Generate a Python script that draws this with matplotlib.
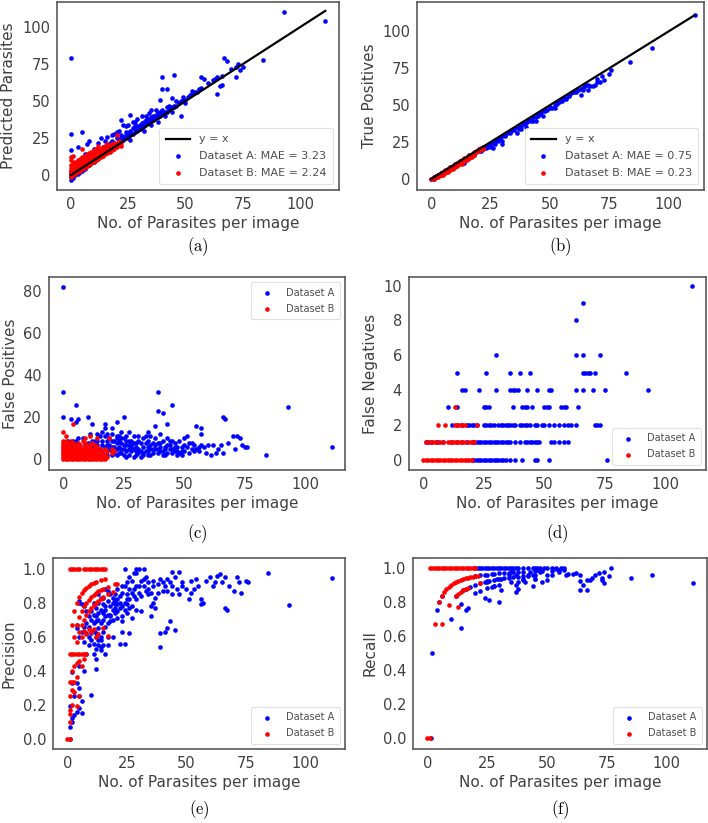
import matplotlib
matplotlib.use("Agg")
import matplotlib.pyplot as plt

plt.rcParams['mathtext.fontset'] = 'cm'

XLABEL = 'No. of Parasites per image'
x_ticks = [0, 25, 50, 75, 100]
line_x = [0, 111]

# (a) predicted count vs ground truth count
a_A = [
    (0, -3), (0, -1), (0, 1), (0, 3), (1, -2), (1, 0), (1, 2), (2, 0), (2, 3), (3, 1),
    (3, 4), (4, 2), (4, 5), (5, 3), (5, 7), (6, 4), (6, 8), (7, 6), (7, 9), (8, 7),
    (8, 11), (9, 8), (9, 12), (10, 9), (10, 13), (11, 10), (11, 15), (12, 12), (12, 16), (13, 13),
    (13, 17), (14, 14), (14, 19), (15, 15), (15, 18), (16, 16), (16, 20), (17, 17), (17, 22), (18, 19),
    (18, 23), (19, 20), (19, 22), (20, 21), (20, 25), (21, 22), (21, 24), (22, 23), (22, 27), (23, 24),
    (23, 26), (24, 25), (24, 29), (25, 26), (25, 28), (26, 27), (26, 30), (27, 28), (27, 32), (28, 29),
    (28, 31), (29, 30), (29, 33), (30, 31), (30, 34), (31, 32), (31, 35), (32, 33), (32, 36), (33, 35),
    (34, 35), (34, 38), (35, 37), (36, 37), (36, 40), (37, 39), (38, 39), (38, 42), (39, 40), (40, 42),
    (41, 43), (42, 43), (43, 45), (44, 46), (45, 47), (46, 47), (47, 49), (48, 50), (49, 51), (50, 51),
    (51, 53), (52, 54), (53, 55), (54, 56), (55, 56), (56, 58), (57, 59), (60, 62), (62, 64), (63, 65),
    (64, 66), (66, 67), (70, 72), (72, 73), (73, 75), (15, 23), (18, 27), (21, 30), (25, 34), (27, 36),
    (29, 38), (31, 40), (34, 42), (32, 30), (26, 24), (35, 34), (38, 36), (41, 40), (44, 43), (50, 49),
    (0, 79), (93, 110), (111, 104), (84, 78), (75, 73), (74, 71), (67, 79), (68, 77), (72, 66), (66, 61),
    (65, 60), (64, 55), (57, 66), (58, 65), (40, 66), (45, 68), (40, 58), (42, 58), (39, 51), (44, 52),
    (45, 46), (48, 40), (35, 44), (37, 44), (26, 41), (22, 37), (23, 34), (0, 28), (0, 17), (5, 29),
    (3, 19), (7, 21), (8, 23), (13, 25), (16, 26), (19, 28), (30, 31), (28, 36), (33, 40), (24, 33),
    (20, 29), (12, 22), (10, 18), (6, 14), (22, 25), (24, 27), (26, 29), (28, 33), (30, 33), (32, 35),
    (33, 37), (35, 39), (37, 41), (39, 43), (40, 44), (42, 46), (43, 47), (46, 50), (49, 53), (53, 57),
]
a_B = [
    (0, -1), (0, 0), (0, 1), (0, 2), (0, 3), (0, 5), (0, 7), (0, 10), (0, 12),
    (1, 0), (1, 1), (1, 2), (1, 3), (1, 4), (1, 6), (1, 8), (1, 13),
    (2, 1), (2, 2), (2, 3), (2, 4), (2, 5), (2, 7), (2, 9),
    (3, 2), (3, 3), (3, 4), (3, 5), (3, 6), (3, 8), (3, 10),
    (4, 3), (4, 4), (4, 5), (4, 6), (4, 7), (4, 9), (4, 11),
    (5, 4), (5, 5), (5, 6), (5, 7), (5, 8), (5, 10), (5, 12), (5, 18),
    (6, 5), (6, 6), (6, 7), (6, 8), (6, 9), (6, 11), (6, 13),
    (7, 6), (7, 7), (7, 8), (7, 9), (7, 10), (7, 12), (7, 14),
    (8, 7), (8, 8), (8, 9), (8, 10), (8, 11), (8, 13), (8, 15),
    (9, 8), (9, 9), (9, 10), (9, 11), (9, 12), (9, 14), (9, 16),
    (10, 9), (10, 10), (10, 11), (10, 12), (10, 13), (10, 15), (10, 17),
    (11, 10), (11, 11), (11, 12), (11, 14), (11, 16), (11, 18),
    (12, 11), (12, 12), (12, 13), (12, 15), (12, 17), (12, 20),
    (13, 12), (13, 13), (13, 14), (13, 16), (13, 18),
    (14, 13), (14, 14), (14, 15), (14, 17), (14, 19),
    (15, 14), (15, 15), (15, 16), (15, 18), (15, 20),
    (16, 15), (16, 16), (16, 17), (16, 19), (16, 21),
    (17, 16), (17, 17), (17, 18), (17, 20),
    (18, 17), (18, 18), (18, 19), (18, 21),
    (19, 18), (19, 20), (19, 22),
    (20, 19), (20, 21), (20, 27),
    (21, 21), (21, 23), (22, 20), (22, 22),
]

# (b) true positives vs ground truth count
b_A = [
    (0, 0), (1, 1), (1, 0), (2, 2), (2, 1), (3, 3), (3, 2), (4, 4), (4, 3), (5, 5),
    (5, 4), (6, 5), (7, 7), (7, 6), (8, 8), (8, 7), (9, 8), (10, 10), (10, 9), (11, 10),
    (12, 12), (12, 11), (13, 12), (14, 13), (14, 11), (15, 14), (16, 16), (16, 14), (17, 16), (18, 17),
    (18, 16), (19, 18), (20, 20), (20, 19), (21, 19), (22, 22), (22, 20), (23, 21), (24, 23), (25, 24),
    (25, 22), (26, 25), (26, 21), (27, 26), (27, 24), (28, 27), (28, 26), (29, 27), (30, 29), (30, 26),
    (30, 24), (31, 29), (32, 31), (33, 31), (34, 33), (35, 33), (36, 35), (36, 31), (37, 34), (37, 36),
    (38, 36), (38, 34), (39, 37), (40, 38), (40, 35), (41, 39), (42, 40), (42, 39), (43, 42), (43, 39),
    (44, 42), (44, 39), (45, 43), (46, 45), (47, 46), (47, 43), (48, 46), (49, 47), (50, 48), (51, 48),
    (52, 50), (52, 48), (53, 52), (54, 52), (55, 53), (56, 54), (57, 55), (57, 54), (58, 56), (59, 58),
    (60, 59), (61, 59), (63, 61), (63, 57), (64, 62), (64, 60), (65, 63), (66, 64), (66, 60), (67, 63),
    (68, 63), (69, 64), (70, 68), (70, 66), (71, 66), (72, 70), (73, 67), (75, 71), (76, 74), (84, 79),
    (93, 89), (111, 111), (21, 20), (23, 22), (24, 22), (29, 28), (31, 30), (33, 32), (35, 34), (39, 38),
    (41, 40), (45, 44), (46, 44), (48, 47), (50, 49), (53, 51), (55, 54), (58, 57), (62, 60), (65, 64),
]
b_B = [
    (0, 0), (1, 1), (1, 0), (2, 2), (2, 1), (3, 3), (3, 2), (3, 1), (4, 4), (4, 3),
    (5, 5), (5, 4), (5, 3), (6, 6), (6, 5), (6, 4), (7, 7), (7, 6), (7, 5), (8, 8),
    (8, 7), (8, 6), (9, 9), (9, 8), (9, 7), (10, 10), (10, 9), (10, 8), (11, 11), (11, 10),
    (11, 9), (12, 12), (12, 11), (12, 10), (13, 13), (13, 12), (13, 11), (13, 10), (14, 14), (14, 13),
    (14, 12), (15, 15), (15, 14), (15, 13), (16, 16), (16, 15), (16, 14), (17, 17), (17, 16), (17, 15),
    (18, 18), (18, 17), (18, 16), (19, 19), (19, 18), (20, 20), (20, 19), (21, 21), (21, 20), (22, 21),
    (22, 20),
]

# (c) false positives vs ground truth count
c_A = [
    (0, 82), (0, 32), (0, 20), (5, 26), (3, 19), (5, 18), (6, 19), (10, 20), (12, 17), (17, 17),
    (17, 15), (20, 15), (22, 18), (25, 20), (27, 13), (39, 32), (39, 23), (41, 22), (45, 26), (43, 17),
    (38, 16), (35, 13), (36, 11), (40, 12), (51, 11), (55, 16), (57, 15), (57, 12), (66, 20), (67, 19),
    (70, 11), (72, 11), (73, 10), (75, 6), (76, 6), (84, 2), (93, 25), (111, 6), (60, 7), (62, 7),
    (63, 3), (64, 5), (66, 3), (48, 3), (52, 3), (55, 5),
    (1, 2), (2, 5), (3, 8), (4, 3), (5, 9), (6, 6), (7, 4), (8, 10), (9, 7), (10, 3),
    (11, 12), (12, 6), (13, 9), (14, 4), (15, 11), (16, 7), (17, 2), (18, 9), (19, 5), (20, 12),
    (21, 3), (22, 8), (23, 6), (24, 10), (25, 2), (26, 7), (27, 5), (28, 9), (29, 1), (30, 6),
    (31, 3), (32, 8), (33, 10), (34, 4), (35, 6), (36, 2), (37, 5), (38, 7), (39, 3), (40, 6),
    (41, 4), (42, 2), (43, 7), (44, 5), (45, 3), (46, 8), (47, 6), (48, 9), (49, 2), (50, 7),
    (52, 8), (53, 5), (54, 7), (56, 6), (58, 6), (59, 3), (61, 2), (65, 7), (68, 8), (71, 5),
    (74, 7), (16, 13), (18, 12), (14, 12), (22, 11), (24, 13), (26, 11), (28, 4), (29, 8), (31, 11),
    (33, 6), (34, 11), (35, 9), (38, 10), (40, 8), (42, 5), (44, 9), (46, 4), (50, 10), (12, 9),
    (10, 8), (8, 5), (6, 10), (4, 7), (2, 9), (14, 7), (18, 4), (20, 6), (21, 9), (23, 3),
    (25, 5), (27, 9), (30, 2), (32, 4), (26, 1), (20, 2), (15, 1), (13, 3), (11, 5), (9, 2),
    (7, 1), (24, 8), (22, 5), (19, 10), (17, 11),
    (15, 5), (16, 9), (17, 6), (18, 2), (19, 7), (20, 4), (21, 6), (22, 2), (23, 9), (24, 5),
    (25, 7), (26, 4), (27, 2), (28, 6), (29, 11), (30, 8), (31, 5), (32, 1), (33, 3), (34, 8),
    (35, 4), (36, 7), (37, 3), (38, 5), (39, 8), (40, 4), (41, 9), (42, 6), (43, 3), (44, 7),
    (45, 9), (46, 6), (47, 4), (49, 6), (50, 4), (51, 6), (53, 8), (54, 4), (56, 4), (57, 7),
    (36, 5), (30, 4), (28, 7), (26, 9), (24, 3), (22, 10), (20, 9), (18, 7), (16, 3), (14, 9),
    (12, 4), (10, 6), (8, 3), (6, 2), (4, 9), (2, 3), (23, 11), (25, 10), (27, 7), (29, 5),
    (31, 9), (33, 2), (35, 2), (37, 8), (39, 5), (41, 2), (43, 10), (45, 5), (47, 2), (49, 4),
]
c_B = [
    (0, 13), (1, 11), (4, 17), (9, 10), (11, 11), (19, 10), (14, 10),
    (0, 0), (0, 1), (0, 2), (0, 3), (0, 4), (0, 5), (0, 6), (0, 7), (0, 8), (0, 9),
    (1, 0), (1, 1), (1, 2), (1, 3), (1, 4), (1, 5), (1, 6), (1, 7), (1, 9),
    (2, 0), (2, 1), (2, 2), (2, 3), (2, 4), (2, 5), (2, 6), (2, 8),
    (3, 0), (3, 1), (3, 2), (3, 3), (3, 4), (3, 5), (3, 7), (3, 9),
    (4, 0), (4, 1), (4, 2), (4, 3), (4, 4), (4, 6), (4, 8),
    (5, 0), (5, 1), (5, 2), (5, 3), (5, 5), (5, 6), (5, 7),
    (6, 0), (6, 1), (6, 2), (6, 4), (6, 5), (6, 8),
    (7, 0), (7, 1), (7, 2), (7, 3), (7, 4), (7, 6), (7, 7),
    (8, 0), (8, 1), (8, 3), (8, 4), (8, 5), (8, 9),
    (9, 0), (9, 1), (9, 2), (9, 4), (9, 6), (9, 8),
    (10, 0), (10, 1), (10, 2), (10, 3), (10, 5), (10, 7),
    (11, 0), (11, 2), (11, 3), (11, 4), (11, 6),
    (12, 0), (12, 1), (12, 2), (12, 4), (12, 5), (12, 8),
    (13, 0), (13, 1), (13, 3), (13, 5), (13, 7),
    (14, 0), (14, 2), (14, 3), (14, 4), (14, 6),
    (15, 0), (15, 1), (15, 2), (15, 5),
    (16, 0), (16, 1), (16, 3), (16, 4),
    (17, 0), (17, 2), (17, 5), (18, 1), (18, 4), (20, 3), (20, 5), (21, 4),
]

# (d) false negatives: ground-truth counts grouped by false-negative value
d_A_rows = {
    10: [111],
    9: [66],
    8: [63],
    6: [30, 63, 66, 73],
    5: [14, 26, 36, 40, 44, 66, 67, 68, 69, 71, 84],
    4: [16, 17, 23, 30, 36, 37, 38, 39, 43, 47, 52, 53, 63, 66, 70, 75, 93],
    3: [10, 14, 25, 26, 27, 37, 41, 42, 43, 45, 50, 51, 52, 57, 58, 59, 64],
    2: [12, 14, 16, 18, 19, 20, 21, 22, 25, 26, 27, 28, 29, 31, 32, 33, 34, 35, 36, 37,
        38, 40, 41, 42, 43, 44, 46, 47, 49, 50, 52, 54, 56, 58, 60, 61, 63, 71, 72, 73],
    1: [1, 2, 3, 5, 6, 8, 12, 14, 16, 18, 20, 21, 22, 23, 24, 25, 26, 27, 28, 29, 30,
        31, 32, 33, 34, 35, 36, 38, 40, 42, 43, 44, 45, 46, 47, 48, 53, 54, 56, 58, 60],
    0: [20, 21, 22, 23, 24, 25, 26, 27, 28, 29, 30, 31, 32, 33, 34, 36, 38, 41, 46, 47,
        52, 76],
}
d_B_rows = {
    3: [13],
    2: [6, 9, 13, 14, 15, 16, 17, 22],
    1: [1, 2, 3, 4, 5, 7, 8, 10, 11, 12, 13, 14, 15, 16, 17, 19, 20, 21],
    0: [0, 1, 2, 3, 4, 5, 6, 7, 8, 9, 10, 11, 12, 13, 14, 15, 16, 17, 18, 19, 20],
}

# (e) precision vs ground truth count
e_A = [
    (111, 0.945), (93, 0.784), (84, 0.975), (75, 0.93), (76, 0.92), (71, 0.95), (72, 0.92), (73, 0.86),
    (70, 0.87), (66, 0.77), (67, 0.76), (66, 0.95), (65, 0.92), (63, 0.96), (64, 0.97), (60, 0.95),
    (61, 0.9), (56, 0.82), (56, 0.79), (57, 0.8), (55, 0.9), (53, 0.88), (52, 0.86), (51, 0.82),
    (47, 0.85), (48, 0.9), (47, 0.98), (44, 0.98), (45, 0.95), (43, 0.92), (44, 0.9), (39, 0.94),
    (40, 0.92), (41, 0.9), (42, 0.87), (41, 0.63), (42, 0.65), (43, 0.69), (45, 0.64), (39, 0.54),
    (39, 0.62), (35, 0.78), (37, 0.77), (37, 0.83), (35, 0.72), (36, 0.8), (31, 0.75), (33, 0.87),
    (34, 0.85), (32, 0.9), (30, 1.0), (32, 1.0), (29, 1.0), (28, 0.975), (29, 0.975), (24, 1.0),
    (26, 0.95), (27, 0.93), (24, 0.9), (23, 0.9), (23, 0.86), (22, 0.84), (21, 0.82), (20, 0.79),
    (19, 0.76), (21, 0.71), (23, 0.69), (22, 0.56), (24, 0.56), (23, 0.63), (26, 0.62), (25, 0.74),
    (27, 0.71), (25, 0.79), (18, 0.73), (16, 0.72), (17, 0.68), (19, 0.6), (16, 0.5), (17, 0.55),
    (14, 0.52), (12, 0.47), (12, 0.41), (14, 0.58), (14, 0.54), (11, 0.64), (12, 0.6), (9, 0.66),
    (8, 0.68), (9, 0.72), (8, 0.75), (7, 0.78), (6, 0.79), (5, 0.81), (5, 0.8), (4, 0.67),
    (4, 0.65), (5, 0.43), (7, 0.4), (2, 0.39), (4, 0.33), (5, 0.3), (5, 0.25), (6, 0.22),
    (5, 0.18), (4, 0.16), (2, 0.12), (1, 0.19), (1, 0.07), (10, 0.26), (1, 0.0), (2, 0.33),
    (3, 0.25), (3, 0.14), (2, 0.1), (6, 0.15),
    (10, 0.7), (11, 0.73), (12, 0.77), (13, 0.8), (14, 0.83), (15, 0.79), (16, 0.76), (17, 0.81),
    (18, 0.78), (19, 0.8), (20, 0.77), (21, 0.79), (13, 0.65), (14, 0.68), (15, 0.7), (16, 0.66),
    (18, 0.72), (19, 0.7), (20, 0.74), (12, 0.62), (14, 0.6), (15, 0.63), (17, 0.6), (11, 0.68),
    (10, 0.58), (9, 0.55), (8, 0.5), (24, 0.8), (25, 0.85), (26, 0.88), (28, 0.84), (29, 0.9),
    (30, 0.86), (31, 0.93), (33, 0.95), (34, 0.92), (36, 0.9), (38, 0.86), (40, 0.87), (42, 0.94),
    (44, 0.85), (46, 0.88), (48, 0.92), (50, 0.88), (52, 0.93), (54, 0.94), (58, 0.93), (62, 0.92),
    (68, 0.9), (26, 0.82), (22, 0.77), (23, 0.72), (18, 0.85), (16, 0.88), (15, 0.83), (13, 0.74),
    (12, 0.69), (11, 0.56), (13, 0.55), (7, 0.57), (6, 0.63), (5, 0.6),
    (10, 0.75), (11, 0.8), (12, 0.72), (13, 0.7), (14, 0.76), (15, 0.74), (16, 0.78), (17, 0.73),
    (18, 0.69), (19, 0.83), (20, 0.81), (21, 0.75), (22, 0.8), (23, 0.78), (24, 0.76), (25, 0.82),
    (26, 0.77), (27, 0.86), (28, 0.88), (29, 0.82), (30, 0.9), (31, 0.84), (32, 0.94), (34, 0.88),
    (35, 0.86), (36, 0.93), (38, 0.91), (27, 0.78), (29, 0.76), (12, 0.53), (13, 0.58), (15, 0.55),
    (10, 0.62), (9, 0.6), (8, 0.62), (7, 0.66), (11, 0.5), (13, 0.85), (17, 0.87), (20, 0.85),
    (21, 0.88), (25, 0.92),
]
e_B = [
    (0, 0.0), (1, 0.0),
    (1, 1.0), (2, 1.0), (3, 1.0), (4, 1.0), (5, 1.0), (7, 1.0), (8, 1.0), (9, 1.0),
    (10, 1.0), (11, 1.0), (12, 1.0), (13, 1.0), (14, 1.0), (15, 1.0), (16, 1.0),
    (1, 0.5), (2, 0.5), (3, 0.5), (4, 0.5), (5, 0.5), (6, 0.5), (7, 0.5), (8, 0.5),
    (3, 0.75), (4, 0.8), (5, 0.833), (6, 0.857), (7, 0.875), (8, 0.889), (9, 0.9), (10, 0.909),
    (11, 0.917), (12, 0.923), (14, 0.933), (16, 0.941),
    (4, 0.667), (5, 0.714), (6, 0.75), (7, 0.778), (8, 0.8), (9, 0.818), (10, 0.833), (11, 0.846),
    (12, 0.857), (13, 0.867), (14, 0.875), (15, 0.882), (17, 0.895), (20, 0.909), (21, 0.913),
    (6, 0.667), (7, 0.7), (8, 0.727), (9, 0.75), (10, 0.769), (11, 0.786), (12, 0.8), (13, 0.813),
    (14, 0.824), (15, 0.833), (17, 0.85), (19, 0.864),
    (2, 0.667), (3, 0.6), (4, 0.571), (5, 0.625), (6, 0.6), (7, 0.636), (8, 0.615), (9, 0.643),
    (10, 0.625), (11, 0.647), (12, 0.6), (13, 0.619), (15, 0.652), (17, 0.607),
    (2, 0.4), (3, 0.429), (4, 0.444), (5, 0.455), (6, 0.429), (7, 0.467), (1, 0.333), (2, 0.333),
    (3, 0.333), (4, 0.364), (1, 0.25), (2, 0.286), (2, 0.2), (1, 0.167), (1, 0.143), (1, 0.1),
    (3, 0.273), (4, 0.19), (5, 0.25),
]

# (f) recall vs ground truth count
f_A = [
    (20, 1.0), (21, 1.0), (22, 1.0), (23, 1.0), (24, 1.0), (25, 1.0), (26, 1.0), (27, 1.0),
    (28, 1.0), (29, 1.0), (30, 1.0), (31, 1.0), (32, 1.0), (33, 1.0), (34, 1.0), (35, 1.0),
    (36, 1.0), (37, 1.0), (38, 1.0), (40, 1.0), (42, 1.0), (44, 1.0), (45, 1.0), (46, 1.0),
    (47, 1.0), (49, 1.0), (50, 1.0), (52, 1.0), (54, 1.0), (56, 1.0), (57, 1.0), (77, 1.0),
    (1.5, 0.0), (2, 0.5), (4, 0.75), (6, 0.833), (5, 0.8), (10, 0.7), (14, 0.643), (12, 0.833),
    (14, 0.786), (16, 0.75), (17, 0.765), (24, 0.82), (26, 0.808), (30, 0.8),
    (15, 0.867), (16, 0.875), (18, 0.889), (20, 0.9), (22, 0.909), (24, 0.917), (25, 0.92),
    (26, 0.923), (28, 0.929), (30, 0.933), (32, 0.938), (34, 0.941), (36, 0.944), (38, 0.947),
    (40, 0.95), (42, 0.952), (44, 0.955),
    (20, 0.95), (22, 0.955), (24, 0.958), (25, 0.96), (27, 0.963), (28, 0.964), (30, 0.967),
    (32, 0.969), (34, 0.971), (36, 0.972), (38, 0.974), (40, 0.975), (43, 0.977), (45, 0.978),
    (48, 0.979), (52, 0.981),
    (20, 0.85), (22, 0.864), (25, 0.88), (28, 0.893), (30, 0.9), (35, 0.914), (40, 0.925), (45, 0.933),
    (111, 0.91), (94, 0.96), (85, 0.94), (76, 0.95), (74, 0.975), (73, 0.93), (73, 0.94), (74, 0.91),
    (72, 0.97), (69, 0.94), (68, 0.93), (70, 0.955), (67, 0.93), (67, 0.87), (64, 0.87), (64, 0.96),
    (64, 0.92), (65, 0.9), (62, 0.97), (61, 0.965), (58, 0.955), (59, 0.965), (57, 0.985), (54, 0.995),
    (55, 0.975), (55, 0.985), (52, 0.955), (50, 0.955), (50, 0.925), (48, 0.915), (47, 0.975),
    (46, 0.985), (45, 0.955), (45, 0.935), (44, 0.89), (42, 0.955), (41, 0.915), (40, 0.935),
    (38, 0.875), (38, 0.915), (37, 0.856), (37, 0.955), (37, 0.9), (35, 0.975), (34, 0.955),
    (31, 0.87), (31, 0.935), (27, 0.885), (28, 0.895), (25, 0.915), (29, 0.935),
]
f_B = [
    (0, 0.0), (1, 0.0),
    (1, 1.0), (2, 1.0), (3, 1.0), (4, 1.0), (5, 1.0), (6, 1.0), (7, 1.0), (8, 1.0), (9, 1.0),
    (10, 1.0), (11, 1.0), (12, 1.0), (13, 1.0), (14, 1.0), (15, 1.0), (16, 1.0), (17, 1.0),
    (18, 1.0), (19, 1.0), (20, 1.0),
    (3, 0.667), (6, 0.667),
    (5, 0.8), (6, 0.833), (7, 0.857), (8, 0.875), (9, 0.889), (10, 0.9), (11, 0.909), (12, 0.917),
    (13, 0.923), (14, 0.929), (15, 0.933), (16, 0.938), (17, 0.941), (18, 0.944), (19, 0.947),
    (20, 0.95), (21, 0.952),
    (9, 0.778), (12, 0.833), (13, 0.846), (14, 0.857), (15, 0.867), (16, 0.875), (17, 0.882),
    (13, 0.769), (22, 0.909),
]

MAE_A = {'a': 3.23, 'b': 0.75}
MAE_B = {'a': 2.24, 'b': 0.23}

TXT = '0.25'
fig = plt.figure(figsize=(7.08, 8.23), dpi=100)


def px_rect(l, t, r, b):
    return [l / 708, 1 - b / 823, (r - l) / 708, (b - t) / 823]


def style(ax, xlim, ylim, yticks, ylabel):
    ax.set_xlim(*xlim)
    ax.set_ylim(*ylim)
    ax.set_xticks(x_ticks)
    ax.set_yticks(yticks)
    ax.set_xlabel(XLABEL, fontsize=11, color=TXT, labelpad=3)
    ax.set_ylabel(ylabel, fontsize=11, color=TXT, labelpad=4)
    ax.tick_params(length=0, labelsize=10.5, labelcolor=TXT, pad=5)
    for s in ax.spines.values():
        s.set_color('0.35')
        s.set_linewidth(1.2)


def pairs(p):
    xs, ys = zip(*p)
    return list(xs), list(ys)


def rows(r):
    xs, ys = [], []
    for y, row in r.items():
        xs += row
        ys += [y] * len(row)
    return xs, ys


def dots(ax, xy, color, label):
    ax.scatter(xy[0], xy[1], s=11, c=color, linewidths=0, label=label, zorder=2)


def legend(ax, loc, size):
    lg = ax.legend(loc=loc, fontsize=size, frameon=True, scatterpoints=1,
                   handlelength=2.2, borderpad=0.6, labelspacing=0.6)
    lg.get_frame().set_edgecolor('0.85')
    lg.get_frame().set_linewidth(0.8)
    for t in lg.get_texts():
        t.set_color('0.3')


# (a)
ax = fig.add_axes(px_rect(57, 2, 339, 190))
ax.plot(line_x, line_x, color='black', lw=1.6, label='y = x', zorder=3)
dots(ax, pairs(a_A), 'blue', f"Dataset A: MAE = {MAE_A['a']:.2f}")
dots(ax, pairs(a_B), 'red', f"Dataset B: MAE = {MAE_B['a']:.2f}")
style(ax, (-6, 117), (-10, 117), [0, 25, 50, 75, 100], 'Predicted Parasites')
legend(ax, 'lower right', 8)

# (b)
ax = fig.add_axes(px_rect(417, 2, 704, 190))
ax.plot(line_x, line_x, color='black', lw=1.6, label='y = x', zorder=3)
dots(ax, pairs(b_A), 'blue', f"Dataset A: MAE = {MAE_A['b']:.2f}")
dots(ax, pairs(b_B), 'red', f"Dataset B: MAE = {MAE_B['b']:.2f}")
style(ax, (-6, 115), (-7.5, 120), [0, 25, 50, 75, 100], 'True Positives')
legend(ax, 'lower right', 8)

# (c)
ax = fig.add_axes(px_rect(49, 277, 345, 470))
dots(ax, pairs(c_A), 'blue', 'Dataset A')
dots(ax, pairs(c_B), 'red', 'Dataset B')
style(ax, (-6, 116.5), (-5, 86.6), [0, 20, 40, 60, 80], 'False Positives')
legend(ax, 'upper right', 7)

# (d)
ax = fig.add_axes(px_rect(409, 277, 706, 470))
dots(ax, rows(d_A_rows), 'blue', 'Dataset A')
dots(ax, rows(d_B_rows), 'red', 'Dataset B')
style(ax, (-6, 117), (-0.6, 10.5), [0, 2, 4, 6, 8, 10], 'False Negatives')
legend(ax, 'lower right', 7)

# (e)
ax = fig.add_axes(px_rect(53, 558, 345, 749))
dots(ax, pairs(e_A), 'blue', 'Dataset A')
dots(ax, pairs(e_B), 'red', 'Dataset B')
style(ax, (-6, 116.5), (-0.06, 1.063), [0, 0.2, 0.4, 0.6, 0.8, 1.0], 'Precision')
legend(ax, 'lower right', 7)

# (f)
ax = fig.add_axes(px_rect(413, 558, 707, 749))
dots(ax, pairs(f_A), 'blue', 'Dataset A')
dots(ax, pairs(f_B), 'red', 'Dataset B')
style(ax, (-6, 117), (-0.065, 1.057), [0, 0.2, 0.4, 0.6, 0.8, 1.0], 'Recall')
legend(ax, 'lower right', 7)

for lab, cx, cy in [('a', 198, 247), ('b', 560, 247), ('c', 197, 534),
                    ('d', 557, 534), ('e', 199, 810), ('f', 560, 810)]:
    fig.text(cx / 708, 1 - cy / 823, r'$\mathrm{(%s)}$' % lab,
             ha='center', va='center', fontsize=12, color='black')

fig.savefig('out.png', dpi=100)
